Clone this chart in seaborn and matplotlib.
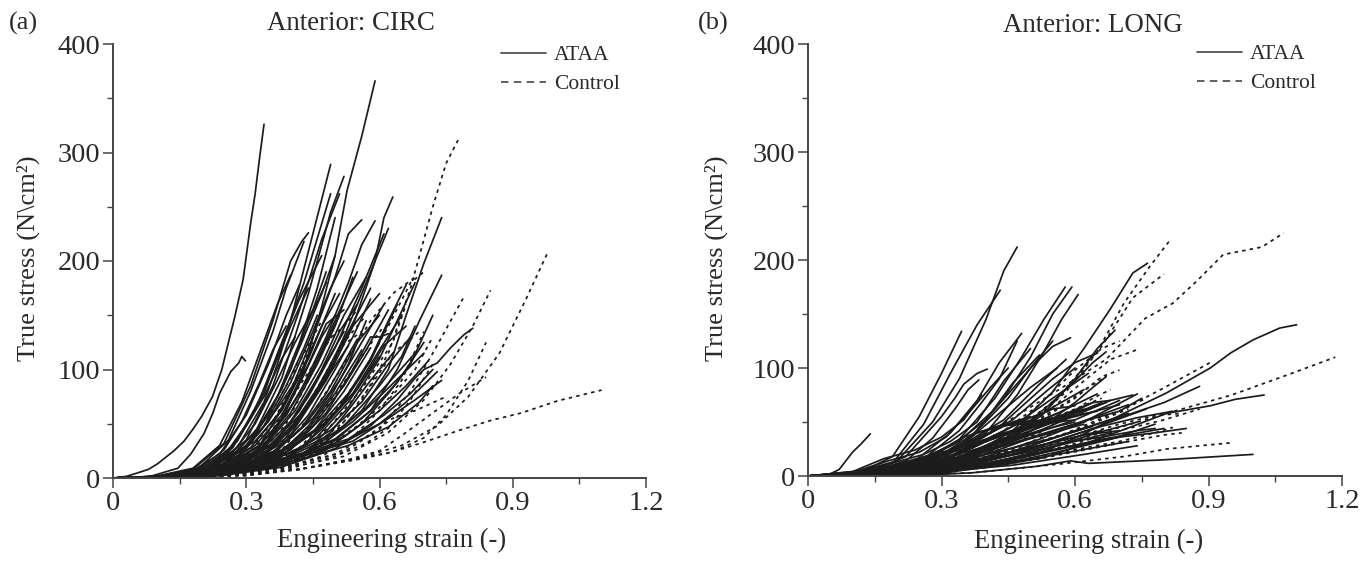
import pandas as pd
import seaborn as sns
import matplotlib
matplotlib.use("Agg")
import matplotlib.pyplot as plt
from matplotlib.ticker import MultipleLocator, FixedLocator, FuncFormatter

# curves as (strain, stress) points
circ_ataa = [
    [(0,0),(.03,1.5),(.05,4),(.08,8),(.1,13),(.137,25),(.16,34),(.18,45),(.2,57),(.224,75),(.245,100),(.26,125),(.275,150),(.293,183),(.31,235),(.32,262),(.33,295),(.34,326)],
    [(0,0),(.08,1),(.146,9),(.175,22),(.205,41),(.225,60),(.24,78),(.265,98),(.283,106),(.29,112),(.298,108)],
    [(0,0),(.15,1.5),(.25,6),(.3,16),(.34,30),(.39,62),(.43,100),(.47,158),(.5,205),(.527,265),(.56,315),(.59,366)],
    [(0,0),(.12,1),(.2,6),(.28,28),(.34,70),(.37,105),(.4,145),(.45,225),(.49,289)],
    [(0,0),(.15,1.5),(.24,9),(.32,42),(.38,92),(.44,170),(.49,245),(.52,278)],
    [(0,0),(.14,1),(.22,8),(.3,35),(.36,85),(.42,155),(.47,220),(.51,262)],
    [(0,0),(.1,1.5),(.18,8),(.25,32),(.31,85),(.36,145),(.4,200),(.425,218),(.44,226)],
    [(0,0),(.1,1),(.19,8),(.26,35),(.31,80),(.36,135),(.39,175),(.43,218)],
    [(0,0),(.12,1),(.2,7),(.27,28),(.33,72),(.38,125),(.42,165),(.47,205)],
    [(0,0),(.09,1),(.18,9),(.24,30),(.29,70),(.33,115),(.37,160),(.4,187)],
    [(0,0),(.13,1),(.21,9),(.28,34),(.34,78),(.39,135),(.43,180),(.49,262)],
    [(0,0),(.14,1),(.23,8),(.31,32),(.37,75),(.42,125),(.46,175),(.5,240)],
    [(0,0),(.15,1),(.25,8),(.33,30),(.39,70),(.45,130),(.5,185),(.53,225),(.56,238)],
    [(0,0),(.16,1.5),(.27,9),(.35,35),(.42,78),(.48,130),(.53,180),(.56,215),(.59,237)],
    [(0,0),(.16,1),(.28,10),(.37,35),(.44,75),(.5,120),(.56,175),(.61,225)],
    [(0,0),(.17,1),(.28,8),(.38,32),(.46,78),(.52,130),(.57,180),(.62,230)],
    [(0,0),(.18,1.5),(.3,11),(.4,40),(.48,90),(.54,140),(.59,200),(.61,240),(.63,259)],
    [(0,0),(.15,1),(.25,6),(.33,25),(.4,60),(.46,105),(.5,140),(.54,185)],
    [(0,0),(.16,1),(.26,7),(.35,26),(.42,62),(.47,100),(.51,135),(.55,160)],
    [(0,0),(.14,1),(.24,7),(.32,24),(.38,55),(.43,95),(.47,130),(.5,150)],
    [(0,0),(.17,1),(.28,7),(.37,25),(.44,58),(.5,100),(.54,130),(.58,165)],
    [(0,0),(.18,1),(.3,8),(.4,26),(.48,60),(.54,100),(.58,130),(.6,130),(.62,133)],
    [(0,0),(.2,1.5),(.33,10),(.43,30),(.51,65),(.58,110),(.62,145),(.66,178)],
    [(0,0),(.2,1),(.34,9),(.45,30),(.53,65),(.6,110),(.64,145),(.68,180)],
    [(0,0),(.22,2),(.36,11),(.47,30),(.56,62),(.62,100),(.66,150),(.7,198),(.74,240)],
    [(0,0),(.24,3),(.38,12),(.48,28),(.58,62),(.64,100),(.69,145),(.74,187)],
    [(0,0),(.22,2),(.35,9),(.44,25),(.52,48),(.6,85),(.65,112),(.68,140)],
    [(0,0),(.24,2),(.38,10),(.48,26),(.56,50),(.62,78),(.67,105),(.72,150)],
    [(0,0),(.25,3),(.4,13),(.5,27),(.58,48),(.64,72),(.68,92),(.7,100),(.73,106),(.76,120),(.79,132),(.81,138)],
    [(0,0),(.22,2),(.36,10),(.46,28),(.54,52),(.6,75),(.65,95),(.7,115)],
    [(0,0),(.12,1),(.2,7),(.26,24),(.3,48),(.34,75),(.38,110),(.41,130)],
    [(0,0),(.11,1),(.19,7),(.25,26),(.29,52),(.33,88),(.36,118),(.39,140)],
    [(0,0),(.14,1),(.22,6),(.29,22),(.34,48),(.39,85),(.43,120),(.46,150)],
    [(0,0),(.16,1),(.26,6),(.34,20),(.4,45),(.45,75),(.49,105),(.53,135)],
    [(0,0),(.18,1),(.29,7),(.37,20),(.44,48),(.49,75),(.53,105),(.57,145)],
    [(0,0),(.13,1),(.21,5),(.28,20),(.33,42),(.38,70),(.42,95),(.45,120)],
    [(0,0),(.2,1),(.31,7),(.4,20),(.47,45),(.52,70),(.56,95),(.6,125)],
    [(0,0),(.21,1.5),(.33,8),(.42,20),(.49,42),(.54,68),(.58,90),(.63,115)],
    # denser part of the bundle
    [(0,0),(.1,1.5),(.18,7),(.24,22),(.3,58),(.35,105),(.39,150),(.42,178)],
    [(0,0),(.11,1.5),(.2,9),(.26,26),(.31,55),(.36,100),(.4,140),(.44,175)],
    [(0,0),(.12,1.5),(.21,9),(.27,24),(.32,50),(.37,90),(.41,125),(.45,155),(.48,190)],
    [(0,0),(.13,1.5),(.22,10),(.28,25),(.33,48),(.38,82),(.43,130),(.47,170),(.5,205)],
    [(0,0),(.14,2),(.23,11),(.29,26),(.35,52),(.4,88),(.45,135),(.49,175),(.52,200)],
    [(0,0),(.13,1.5),(.23,12),(.3,30),(.35,58),(.4,100),(.44,145),(.48,180)],
    [(0,0),(.15,2),(.24,11),(.31,28),(.37,58),(.42,95),(.47,140),(.51,170)],
    [(0,0),(.15,2),(.25,13),(.32,30),(.38,58),(.44,105),(.48,142),(.52,155)],
    [(0,0),(.16,2),(.26,13),(.33,30),(.39,58),(.45,100),(.5,145),(.55,190)],
    [(0,0),(.16,2),(.26,11),(.34,29),(.41,62),(.47,105),(.52,150),(.57,185)],
    [(0,0),(.17,2),(.27,12),(.35,29),(.42,58),(.48,95),(.53,135),(.58,175)],
    [(0,0),(.17,2),(.28,14),(.36,30),(.43,60),(.49,100),(.54,140),(.6,170)],
    [(0,0),(.18,2),(.28,11),(.36,24),(.43,48),(.49,80),(.55,125),(.6,150)],
    [(0,0),(.18,2),(.29,12),(.37,26),(.45,55),(.51,90),(.56,125),(.61,160)],
    [(0,0),(.19,2),(.3,13),(.38,26),(.45,48),(.52,85),(.57,118),(.62,155)],
    [(0,0),(.2,2),(.31,14),(.38,24),(.46,46),(.53,78),(.58,108),(.64,160)],
    [(0,0),(.2,2),(.31,12),(.39,24),(.47,48),(.54,78),(.6,118),(.65,150)],
    [(0,0),(.2,2),(.32,15),(.4,28),(.48,50),(.55,82),(.61,122),(.66,140)],
    [(0,0),(.21,2),(.33,13),(.41,25),(.49,44),(.56,70),(.62,105),(.67,130)],
    [(0,0),(.22,2),(.34,15),(.42,26),(.5,42),(.57,65),(.63,92),(.68,115)],
    [(0,0),(.22,2),(.33,11),(.42,22),(.5,36),(.58,62),(.64,88),(.7,125)],
    [(0,0),(.23,3),(.35,14),(.43,23),(.52,38),(.6,62),(.66,85),(.71,108)],
    [(0,0),(.24,3),(.36,16),(.44,24),(.53,36),(.61,58),(.67,78),(.72,100)],
    [(0,0),(.24,3),(.34,12),(.42,20),(.52,33),(.6,50),(.66,70),(.73,98)],
    [(0,0),(.25,4),(.36,15),(.44,22),(.54,34),(.62,55),(.68,72),(.74,90)],
    [(0,0),(.26,4),(.35,11),(.43,18),(.53,30),(.62,47),(.69,70),(.72,85)],
    # toe of the bundle, black area under about 35
    [(0,0),(.12,2),(.2,8),(.26,18),(.32,34),(.38,62),(.44,110),(.5,170)],
    [(0,0),(.13,2),(.21,7),(.27,16),(.33,30),(.39,58),(.45,100),(.51,150)],
    [(0,0),(.14,2),(.22,7),(.28,15),(.34,28),(.4,52),(.46,92),(.52,135)],
    [(0,0),(.15,2),(.23,6),(.29,14),(.35,26),(.41,48),(.47,85),(.53,122)],
    [(0,0),(.16,2),(.24,6),(.3,13),(.36,24),(.42,44),(.48,78),(.55,128)],
    [(0,0),(.17,2),(.25,6),(.31,12),(.37,22),(.43,40),(.5,78),(.56,118)],
    [(0,0),(.18,2),(.26,5),(.32,11),(.38,21),(.45,42),(.52,80),(.58,120)],
    [(0,0),(.19,2),(.27,5),(.33,10),(.39,19),(.46,38),(.53,70),(.6,112)],
]
circ_control = [
    [(0,0),(.2,1),(.33,6),(.43,20),(.5,42),(.56,72),(.62,115),(.67,175),(.72,250),(.75,290),(.78,314)],
    [(0,0),(.3,3),(.42,8),(.55,18),(.65,30),(.73,48),(.8,75),(.87,115),(.93,165),(.98,209)],
    [(0,0),(.26,3),(.4,10),(.52,20),(.62,42),(.7,72),(.76,105),(.81,140),(.85,173)],
    [(0,0),(.25,3),(.4,11),(.52,24),(.6,45),(.67,80),(.72,115),(.79,167)],
    [(0,0),(.3,3),(.42,8),(.53,17),(.6,25),(.66,42),(.72,60),(.78,78),(.84,93)],
    [(0,0),(.3,2),(.42,8),(.55,17),(.62,23),(.7,33),(.78,44),(.85,53),(.92,60),(1.0,71),(1.1,81)],
    [(0,0),(.3,3),(.42,8),(.55,18),(.63,24),(.7,37),(.75,58),(.8,90),(.84,125)],
    [(0,0),(.18,1),(.29,7),(.38,26),(.45,60),(.52,105),(.58,145),(.63,170),(.68,185)],
    [(0,0),(.15,1),(.25,6),(.33,22),(.39,50),(.44,90),(.48,125),(.52,140),(.55,155)],
    [(0,0),(.2,1),(.32,8),(.42,28),(.5,62),(.56,95),(.62,140),(.67,180),(.7,190)],
    [(0,0),(.12,1),(.21,6),(.28,20),(.34,48),(.39,85),(.43,115),(.47,145)],
    [(0,0),(.22,2),(.34,9),(.44,25),(.52,52),(.58,85),(.63,115),(.69,135)],
    [(0,0),(.24,2),(.37,10),(.47,25),(.55,48),(.62,72),(.68,100),(.72,130)],
    [(0,0),(.17,1),(.27,7),(.35,24),(.42,55),(.47,90),(.51,120),(.56,135)],
    [(0,0),(.25,2),(.38,9),(.5,22),(.57,38),(.63,55),(.68,62),(.75,75)],
    [(0,0),(.13,1),(.23,6),(.3,22),(.36,52),(.41,90),(.45,125)],
    [(0,0),(.18,2),(.28,9),(.36,28),(.43,62),(.48,95),(.52,125),(.57,150)],
    [(0,0),(.2,2),(.3,9),(.38,24),(.46,55),(.52,88),(.57,118),(.61,140)],
    [(0,0),(.22,2),(.32,9),(.42,26),(.49,48),(.56,82),(.63,125),(.66,160)],
    [(0,0),(.26,3),(.38,9),(.47,20),(.54,38),(.6,62),(.65,90),(.7,135)],
    [(0,0),(.28,3),(.4,9),(.5,20),(.57,32),(.62,46),(.67,72),(.72,105)],
    [(0,0),(.14,2),(.24,8),(.3,20),(.36,45),(.42,85),(.46,110),(.5,135)],
]
long_ataa = [
    [(0,0),(.05,2),(.07,6),(.1,22),(.12,30),(.14,39)],
    [(0,0),(.1,3),(.15,10),(.19,18),(.25,55),(.3,95),(.345,134)],
    [(0,0),(.12,5),(.2,14),(.28,50),(.34,90),(.4,145),(.44,190),(.47,212)],
    [(0,0),(.12,4),(.19,12),(.26,48),(.32,95),(.38,140),(.432,172)],
    [(0,0),(.14,4),(.22,18),(.3,55),(.33,72),(.35,85),(.38,95),(.403,99)],
    [(0,0),(.14,4),(.22,14),(.28,35),(.33,62),(.36,80),(.384,89)],
    [(0,0),(.15,4),(.24,14),(.32,40),(.38,70),(.43,105),(.48,132)],
    [(0,0),(.16,4),(.26,16),(.34,42),(.39,68),(.43,90),(.47,125)],
    [(0,0),(.16,4),(.26,13),(.34,34),(.42,72),(.48,110),(.53,145),(.578,175)],
    [(0,0),(.17,4),(.28,15),(.37,38),(.44,72),(.5,110),(.55,150),(.593,175)],
    [(0,0),(.2,5),(.3,16),(.4,40),(.47,75),(.53,115),(.57,145),(.607,168)],
    [(0,0),(.18,4),(.3,18),(.38,42),(.45,72),(.5,100),(.55,120),(.59,128)],
    [(0,0),(.2,4),(.32,18),(.42,42),(.49,68),(.55,90),(.6,105),(.651,114)],
    [(0,0),(.22,4),(.36,18),(.46,42),(.55,78),(.62,118),(.68,155),(.73,188),(.763,197)],
    [(0,0),(.24,4),(.36,15),(.46,35),(.53,58),(.6,90),(.65,118),(.69,135)],
    [(0,0),(.22,3),(.36,16),(.46,38),(.54,65),(.6,88),(.64,105),(.67,115)],
    [(0,0),(.25,4),(.37,15),(.47,35),(.54,50),(.6,68),(.64,82),(.67,92)],
    [(0,0),(.26,2),(.37,8),(.515,20),(.61,37),(.71,58),(.806,77),(.904,100),(.95,114),(1.0,126),(1.06,137),(1.098,140)],
    [(0,0),(.3,3),(.418,9),(.53,17),(.61,28),(.71,43),(.806,58),(.904,65),(.96,71),(1.025,75)],
    [(0,0),(.25,.6),(.37,3),(.515,9),(.59,14),(.63,11.7),(.8,15),(1.0,20)],
    [(0,0),(.2,3),(.33,15),(.44,28),(.55,42),(.63,52),(.7,60),(.75,72)],
    [(0,0),(.22,4),(.34,16),(.44,30),(.52,42),(.6,56),(.68,70),(.73,75)],
    [(0,0),(.2,3),(.31,13),(.42,30),(.5,45),(.58,58),(.64,68),(.68,70)],
    [(0,0),(.26,3),(.4,12),(.52,22),(.62,30),(.7,36),(.78,40),(.85,44)],
    [(0,0),(.25,3),(.38,13),(.5,28),(.6,42),(.7,54),(.8,68),(.88,83)],
    [(0,0),(.24,2),(.36,10),(.48,22),(.58,36),(.66,46),(.74,54),(.82,60)],
    [(0,0),(.18,3),(.3,12),(.38,24),(.46,36),(.54,48),(.6,58),(.66,68)],
    [(0,0),(.16,3),(.28,12),(.36,26),(.44,42),(.5,54),(.55,62),(.6,65)],
    [(0,0),(.22,3),(.34,10),(.46,20),(.56,30),(.66,36),(.74,42),(.78,44)],
    [(0,0),(.14,3),(.24,10),(.32,22),(.4,38),(.46,50),(.5,55)],
    [(0,0),(.2,3),(.3,8),(.42,18),(.54,30),(.62,38),(.7,42)],
    [(0,0),(.16,3),(.26,9),(.34,18),(.42,32),(.5,44),(.57,52)],
    # dense wedge
    [(0,0),(.1,4),(.17,16),(.24,24),(.3,36),(.35,52),(.39,75)],
    [(0,0),(.11,4),(.18,14),(.25,22),(.31,36),(.36,58),(.41,82),(.45,100)],
    [(0,0),(.12,4),(.19,12),(.26,20),(.32,32),(.38,50),(.44,88),(.5,118)],
    [(0,0),(.13,4),(.2,11),(.27,19),(.33,30),(.4,52),(.46,86),(.52,112)],
    [(0,0),(.13,3),(.2,9),(.27,17),(.34,32),(.42,62),(.49,95),(.55,125)],
    [(0,0),(.14,3),(.21,9),(.28,16),(.35,30),(.43,58),(.5,82),(.56,100)],
    [(0,0),(.14,3),(.21,8),(.29,18),(.36,32),(.44,52),(.52,85),(.58,108)],
    [(0,0),(.15,3),(.22,8),(.3,18),(.38,34),(.46,52),(.54,80),(.6,100)],
    [(0,0),(.15,2),(.23,8),(.3,15),(.38,28),(.46,46),(.55,72),(.63,95)],
    [(0,0),(.16,2),(.24,7),(.31,15),(.39,30),(.47,44),(.56,66),(.62,80)],
    [(0,0),(.16,2),(.24,6),(.32,14),(.4,27),(.48,42),(.56,58),(.65,76)],
    [(0,0),(.17,2),(.25,6),(.33,14),(.41,28),(.49,40),(.58,55),(.67,68)],
    [(0,0),(.17,2),(.26,6),(.33,12),(.42,26),(.5,38),(.6,52),(.7,70)],
    [(0,0),(.18,2),(.26,5),(.34,12),(.42,23),(.5,35),(.6,48),(.72,66)],
    [(0,0),(.18,2),(.27,5),(.35,11),(.43,22),(.52,34),(.62,50),(.74,76)],
    [(0,0),(.19,2),(.27,4),(.36,11),(.44,20),(.53,32),(.62,44),(.72,58)],
    [(0,0),(.19,1.5),(.28,4),(.37,10),(.45,19),(.54,30),(.64,44),(.76,62)],
    [(0,0),(.2,1.5),(.29,4),(.37,8),(.46,17),(.55,27),(.65,40),(.74,50)],
    [(0,0),(.21,1.5),(.3,4),(.38,8),(.47,16),(.55,24),(.66,34),(.8,44)],
    [(0,0),(.22,1),(.31,3),(.4,9),(.48,15),(.58,24),(.68,34),(.78,48)],
    [(0,0),(.12,3),(.2,10),(.26,16),(.34,24),(.42,36),(.5,48),(.56,58)],
    [(0,0),(.14,3),(.22,10),(.28,18),(.36,26),(.44,38),(.52,48),(.6,60)],
    [(0,0),(.15,3),(.23,11),(.3,22),(.38,30),(.46,40),(.54,52),(.62,62)],
    [(0,0),(.16,3),(.24,10),(.31,22),(.39,33),(.47,42),(.55,50),(.64,68)],
    [(0,0),(.13,3),(.21,10),(.28,20),(.35,36),(.42,45),(.5,50),(.58,56)],
    [(0,0),(.17,3),(.25,10),(.32,22),(.38,40),(.44,48),(.52,48),(.6,52)],
    [(0,0),(.18,3),(.27,12),(.33,24),(.4,42),(.47,50),(.55,52),(.65,60)],
    [(0,0),(.2,3),(.28,11),(.35,22),(.42,38),(.5,46),(.6,55),(.7,66)],
    # more of the black wedge
    [(0,0),(.15,3),(.23,9),(.3,16),(.37,24),(.44,32),(.52,42),(.6,50)],
    [(0,0),(.16,3),(.24,8),(.31,14),(.38,21),(.45,29),(.53,38),(.62,48)],
    [(0,0),(.17,3),(.25,8),(.32,13),(.39,19),(.46,26),(.54,34),(.64,46)],
    [(0,0),(.18,2),(.26,7),(.33,12),(.4,17),(.47,24),(.56,32),(.66,42)],
    [(0,0),(.19,2),(.27,6),(.34,11),(.41,15),(.48,21),(.57,29),(.68,40)],
    [(0,0),(.2,2),(.28,6),(.35,9),(.42,13),(.5,19),(.58,26),(.7,36)],
    [(0,0),(.21,2),(.29,5),(.36,8),(.44,12),(.52,17),(.6,23),(.72,32)],
    [(0,0),(.22,1),(.3,4),(.38,7),(.46,10),(.54,15),(.62,20),(.74,28)],
]
long_control = [
    [(0,0),(.16,3),(.272,15),(.418,43),(.564,80),(.67,108),(.758,146),(.82,160),(.875,181),(.933,205),(1.02,212),(1.069,225)],
    [(0,0),(.2,2),(.32,5),(.418,12),(.61,34),(.806,58),(.952,75),(1.08,94),(1.185,110)],
    [(0,0),(.2,3),(.34,15),(.46,40),(.56,72),(.65,115),(.71,160),(.768,194),(.811,217)],
    [(0,0),(.22,3),(.36,16),(.48,42),(.58,78),(.66,120),(.73,165),(.8,187)],
    [(0,0),(.3,2),(.37,3),(.564,11),(.71,18),(.806,25),(.957,31)],
    [(0,0),(.2,3),(.34,10),(.46,22),(.564,37),(.71,62),(.806,83),(.908,106)],
    [(0,0),(.2,3),(.32,12),(.44,34),(.54,60),(.62,88),(.68,108),(.74,117)],
    [(0,0),(.18,3),(.3,12),(.42,36),(.52,66),(.6,98),(.66,118),(.7,125)],
    [(0,0),(.2,3),(.32,13),(.42,30),(.5,48),(.58,68),(.63,82),(.67,92)],
    [(0,0),(.22,3),(.34,12),(.44,26),(.52,40),(.58,55),(.64,72),(.68,80)],
    [(0,0),(.24,3),(.38,12),(.5,24),(.6,36),(.7,48),(.78,56),(.84,58)],
    [(0,0),(.26,2),(.4,10),(.52,18),(.62,26),(.7,32),(.78,40),(.82,45)],
    [(0,0),(.2,3),(.32,10),(.42,20),(.52,32),(.6,42),(.66,52),(.72,62)],
    [(0,0),(.18,3),(.28,10),(.38,24),(.46,38),(.54,52),(.6,62),(.66,72)],
    [(0,0),(.24,2),(.36,8),(.48,18),(.6,30),(.7,42),(.8,52),(.88,62)],
    [(0,0),(.28,2),(.4,8),(.52,16),(.62,24),(.72,32),(.8,38),(.84,40)],
    [(0,0),(.22,3),(.33,10),(.44,22),(.54,38),(.62,50),(.7,60),(.76,72)],
    [(0,0),(.2,3),(.3,10),(.4,24),(.5,46),(.6,72),(.66,92),(.7,98)],
]
strain_ticks = [0, 0.3, 0.6, 0.9, 1.2]
stress_ticks = [0, 100, 200, 300, 400]
group_names = ["ATAA", "Control"]
panel_letters = ["(a)", "(b)"]
panel_titles = ["Anterior: CIRC", "Anterior: LONG"]


def make_frame(ataa, control):
    rows = []
    for group, curves in zip(group_names, [ataa, control]):
        for i, curve in enumerate(curves):
            for x, y in curve:
                rows.append({"strain": x, "stress": y, "group": group, "curve": f"{group}{i}"})
    return pd.DataFrame(rows)


sns.set_theme(style="white")
plt.rcParams["font.family"] = ["Liberation Serif", "DejaVu Serif"]
INK = "#2a2a2a"

W, H = 1369, 561
fig = plt.figure(figsize=(W / 100, H / 100), dpi=100, facecolor="white")
# pixel boxes of the two axes: left, right, top, bottom
boxes = [(113, 646, 44, 478), (808, 1342, 44, 476)]
frames = [make_frame(circ_ataa, circ_control), make_frame(long_ataa, long_control)]
title_px = [(351, 23), (1093, 26)]
letter_px = [(23, 23), (713, 23)]
ylabel_px = [28, 716]
xlabel_px = [(392, 540), (1089, 541)]
legend_px = [(501, 45), (1197, 44)]

for i, (box, df) in enumerate(zip(boxes, frames)):
    l, r, t, b = box
    ax = fig.add_axes([l / W, 1 - b / H, (r - l) / W, (b - t) / H])
    sns.lineplot(data=df, x="strain", y="stress", units="curve", estimator=None,
                 style="group", dashes={"ATAA": "", "Control": (2.0, 2.4)},
                 color="#1c1c1c", linewidth=1.25, sort=False, ax=ax)
    ax.set_xlim(0, 1.2)
    ax.set_ylim(0, 400)
    sns.despine(ax=ax)
    for side in ["left", "bottom"]:
        ax.spines[side].set_color("#444444")
        ax.spines[side].set_linewidth(1.4)
    ax.xaxis.set_major_locator(FixedLocator(strain_ticks))
    ax.yaxis.set_major_locator(FixedLocator(stress_ticks))
    ax.xaxis.set_minor_locator(MultipleLocator(0.15))
    ax.yaxis.set_minor_locator(MultipleLocator(50))
    ax.xaxis.set_major_formatter(FuncFormatter(lambda v, p: "0" if v == 0 else f"{v:.1f}"))
    ax.tick_params(axis="both", which="major", direction="out", length=7, width=1.1,
                   color="#444444", labelcolor=INK, labelsize=20.5, pad=2,
                   bottom=True, left=True)
    ax.tick_params(axis="both", which="minor", direction="out", length=4, width=1.0,
                   color="#444444", bottom=True, left=True)
    ax.set_xlabel("")
    ax.set_ylabel("")
    ax.patch.set_alpha(0)

    fig.text(title_px[i][0] / W, 1 - title_px[i][1] / H, panel_titles[i], ha="center", va="center",
             fontsize=19.4, color=INK)
    fig.text(letter_px[i][0] / W, 1 - letter_px[i][1] / H, panel_letters[i], ha="center", va="center",
             fontsize=19, color=INK)
    fig.text(ylabel_px[i] / W, 1 - 258 / H, "True stress (N\\cm²)", rotation=90, ha="center", va="center",
             fontsize=19, color=INK)
    fig.text(xlabel_px[i][0] / W, 1 - xlabel_px[i][1] / H, "Engineering strain (-)", ha="center", va="center",
             fontsize=19.2, color=INK)

    handles, labels = ax.get_legend_handles_labels()
    for h, style in zip(handles, ["-", (0, (4.5, 3.2))]):
        h.set_color("#444444")
        h.set_linewidth(1.2)
        h.set_linestyle(style)
    ax.legend(handles, labels, frameon=False, loc="upper left",
              bbox_to_anchor=(legend_px[i][0] / W, 1 - legend_px[i][1] / H),
              bbox_transform=fig.transFigure, fontsize=15.5, labelcolor=INK,
              handlelength=2.1, handletextpad=0.35, labelspacing=0.42,
              borderpad=0, borderaxespad=0)

fig.savefig("out.png", dpi=100)
